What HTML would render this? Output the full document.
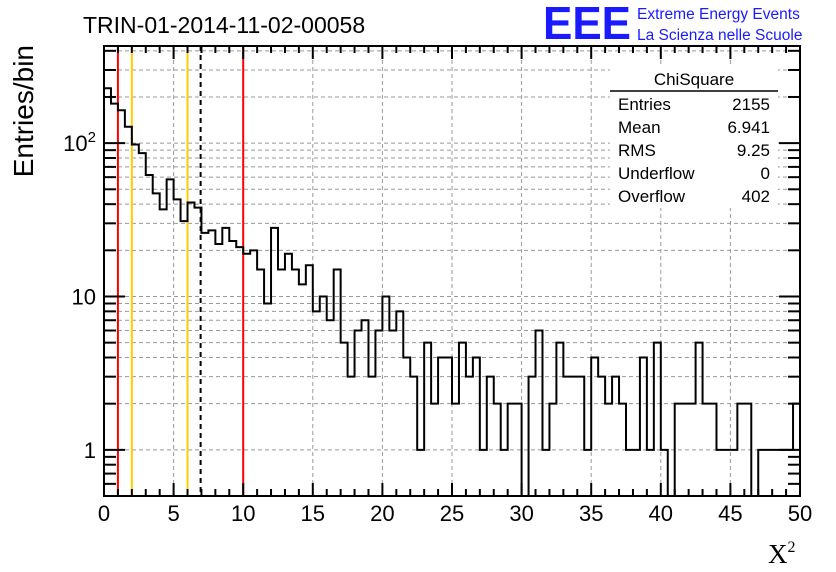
<!DOCTYPE html>
<html><head><meta charset="utf-8"><style>
html,body{margin:0;padding:0;background:#fff;}
svg{display:block;font-family:"Liberation Sans",sans-serif;}
</style></head><body>
<svg id="c" width="836" height="572" viewBox="0 0 836 572"></svg>
<script>
const binEdgesMin = 0, binEdgesMax = 50;
const counts = [228,181,164,128,98,86,62,47,37,58,43,31,41,38,26,27,22,28,23,21,
19,20,15,9,28,15,19,15,12,16,8,10,7,15,5,3,6,7,3,6,
10,6,8,4,3,1,5,2,4,4,2,5,3,4,1,3,2,1,2,2,
0,3,6,1,2,5,3,3,3,1,4,3,2,3,2,1,1,4,1,5,
1,0,2,2,2,5,2,2,1,1,1,2,2,0,1,1,1,1,1,2];
const xTicks = [0,5,10,15,20,25,30,35,40,45,50];
const yMajor = [1,10,100];
const yMajorLabels = ["1","10","10²"];
const vLines = [{v:1,c:"#f00",d:""},{v:2,c:"#fc0",d:""},{v:6,c:"#fc0",d:""},{v:6.941,c:"#000",d:"5,4"},{v:10,c:"#f00",d:""}];
const statsLabels = ["Entries","Mean","RMS","Underflow","Overflow"];
const statsValues = ["2155","6.941","9.25","0","402"];

const L=104,R=800,T=46,B=496,yMin=0.5,yMax=430;
const sx=v=>L+(v-binEdgesMin)/(binEdgesMax-binEdgesMin)*(R-L);
const sy=v=>B-(Math.log10(v)-Math.log10(yMin))/(Math.log10(yMax)-Math.log10(yMin))*(B-T);
const svg=document.getElementById('c');const NS="http://www.w3.org/2000/svg";
function mk(t,a,p){const e=document.createElementNS(NS,t);for(const k in a)e.setAttribute(k,a[k]);(p||svg).appendChild(e);return e;}

for(let d=1;d<=100;d*=10)for(let m=1;m<=9;m++){const v=d*m;if(v<yMin||v>yMax)continue;
 const g=mk('line',{x1:L,x2:R,y1:sy(v),y2:sy(v),stroke:'#999','stroke-dasharray':'4,3','stroke-width':1});
 }
xTicks.forEach(t=>{if(t===0||t===50)return;const g=mk('line',{x1:sx(t),x2:sx(t),y1:T,y2:B,stroke:'#999','stroke-dasharray':'4,3','stroke-width':1});
 });

vLines.forEach(l=>{const e=mk('line',{x1:sx(l.v),x2:sx(l.v),y1:T,y2:B,stroke:l.c,'stroke-width':2,'stroke-dasharray':l.d});
 });

const bw=(binEdgesMax-binEdgesMin)/counts.length;
let d="";counts.forEach((c,i)=>{const y=c>0?Math.min(sy(c),B):B;const x0=sx(binEdgesMin+i*bw),x1=sx(binEdgesMin+(i+1)*bw);
 d+=(i===0?"M"+x0+","+y:"L"+x0+","+y)+"L"+x1+","+y;});
const h=mk('path',{d:d,fill:'none',stroke:'#000','stroke-width':2});


const f=mk('rect',{x:L,y:T,width:R-L,height:B-T,fill:'none',stroke:'#000','stroke-width':2});


for(let t=0;t<=50;t++){const maj=t%5===0,len=maj?13:7;
 mk('line',{x1:sx(t),x2:sx(t),y1:B,y2:B-len,stroke:'#000','stroke-width':2});
 mk('line',{x1:sx(t),x2:sx(t),y1:T,y2:T+len,stroke:'#000','stroke-width':2});}
xTicks.forEach(t=>{const e=mk('text',{x:sx(t),y:521,'font-size':22,'text-anchor':'middle'});e.textContent=t;
 });
for(let dd=0.1;dd<=100;dd*=10)for(let m=1;m<=9;m++){const v=dd*m;if(v<yMin||v>yMax)continue;const maj=(m===1),len=maj?21:12;
 mk('line',{x1:L,x2:L+len,y1:sy(v),y2:sy(v),stroke:'#000','stroke-width':2});
 mk('line',{x1:R,x2:R-len,y1:sy(v),y2:sy(v),stroke:'#000','stroke-width':2});}
yMajor.forEach((v,i)=>{const e=mk('text',{x:96,y:sy(v)+8,'font-size':22,'text-anchor':'end'});
 if(i===2){e.textContent="10";const s=mk('tspan',{dy:-9,'font-size':15},e);s.textContent="2";}else e.textContent=yMajorLabels[i];
 });

let e=mk('text',{x:83,y:33,'font-size':23});e.textContent="TRIN-01-2014-11-02-00058";
e=mk('text',{x:0,y:0,'font-size':28,'text-anchor':'end',transform:'translate(33,45) rotate(-90)'});e.textContent="Entries/bin";
e=mk('text',{x:768,y:563,'font-size':27,'font-family':'Liberation Serif, serif'});e.textContent="X";const sp=mk('tspan',{dy:-11,'font-size':16},e);sp.textContent="2";

e=mk('text',{x:543,y:39,'font-size':46,'font-weight':'bold',fill:'#1a1aff','textLength':88,lengthAdjust:'spacingAndGlyphs'});e.textContent="EEE";
e=mk('text',{x:637,y:19,'font-size':15.5,fill:'#1a1aff'});e.textContent="Extreme Energy Events";
e=mk('text',{x:637,y:40,'font-size':15.5,fill:'#1a1aff'});e.textContent="La Scienza nelle Scuole";

const sg=mk('g',{});
e=mk('rect',{x:610,y:66,width:168,height:142,fill:'#fff'},sg);
e=mk('text',{x:694,y:85,'font-size':17,'text-anchor':'middle'},sg);e.textContent="ChiSquare";
mk('line',{x1:610,x2:778,y1:91,y2:91,stroke:'#000','stroke-width':1.5},sg);
statsLabels.forEach((s,i)=>{let t=mk('text',{x:618,y:110+i*23,'font-size':17},sg);t.textContent=s;
 t=mk('text',{x:770,y:110+i*23,'font-size':17,'text-anchor':'end'},sg);t.textContent=statsValues[i];});
</script>
</body></html>
